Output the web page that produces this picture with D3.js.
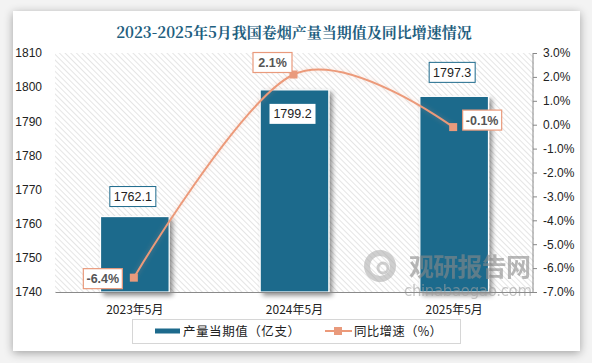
<!DOCTYPE html>
<html><head><meta charset="utf-8">
<script src="https://cdn.jsdelivr.net/npm/d3@7"></script>
<style>
html,body{margin:0;padding:0;background:#fff;}
svg{display:block;}
</style></head>
<body>
<script>
const categories = ["2023年5月","2024年5月","2025年5月"];
const production = [1762.1, 1799.2, 1797.3];
const growth = [-6.4, 2.1, -0.1];
const leftTicks = [1740,1750,1760,1770,1780,1790,1800,1810];
const rightTicks = [3,2,1,0,-1,-2,-3,-4,-5,-6,-7];
const title = "2023-2025年5月我国卷烟产量当期值及同比增速情况";
const legendBar = "产量当期值（亿支）";
const legendLine = "同比增速（%）";

const W = 592, H = 363;
const svg = d3.select("body").append("svg").attr("width", W).attr("height", H);
const defs = svg.append("defs");

const bg = defs.append("filter").attr("id","cardShadow").attr("x","-10%").attr("y","-10%").attr("width","120%").attr("height","120%");
bg.append("feGaussianBlur").attr("in","SourceAlpha").attr("stdDeviation",5).attr("result","b");
bg.append("feOffset").attr("in","b").attr("dx",0).attr("dy",2).attr("result","o");
bg.append("feComponentTransfer").attr("in","o").attr("result","o2").append("feFuncA").attr("type","linear").attr("slope",0.35);
const m1 = bg.append("feMerge"); m1.append("feMergeNode").attr("in","o2"); m1.append("feMergeNode").attr("in","SourceGraphic");

const bs = defs.append("filter").attr("id","barShadow").attr("x","-20%").attr("y","-20%").attr("width","150%").attr("height","150%");
bs.append("feGaussianBlur").attr("in","SourceAlpha").attr("stdDeviation",2.5).attr("result","b");
bs.append("feOffset").attr("in","b").attr("dx",3).attr("dy",3).attr("result","o");
bs.append("feComponentTransfer").attr("in","o").attr("result","o2").append("feFuncA").attr("type","linear").attr("slope",0.45);
const m2 = bs.append("feMerge"); m2.append("feMergeNode").attr("in","o2"); m2.append("feMergeNode").attr("in","SourceGraphic");

const gl = defs.append("filter").attr("id","lineGlow").attr("x","-20%").attr("y","-20%").attr("width","140%").attr("height","140%");
gl.append("feGaussianBlur").attr("in","SourceGraphic").attr("stdDeviation",2.5).attr("result","b");
gl.append("feComponentTransfer").attr("in","b").attr("result","b2").append("feFuncA").attr("type","linear").attr("slope",0.35);
const m3 = gl.append("feMerge"); m3.append("feMergeNode").attr("in","b2"); m3.append("feMergeNode").attr("in","SourceGraphic");

const pat = defs.append("pattern").attr("id","hatch").attr("patternUnits","userSpaceOnUse")
  .attr("width",4).attr("height",4).attr("patternTransform","rotate(-45)");
pat.append("rect").attr("width",4).attr("height",4).attr("fill","#fff");
pat.append("line").attr("x1",0).attr("y1",0).attr("x2",0).attr("y2",4).attr("stroke","#d4d4d4").attr("stroke-width",1.2);

svg.append("rect").attr("width",W).attr("height",H).attr("fill","#f3f3f3");
svg.append("rect").attr("x",13).attr("y",11).attr("width",567).attr("height",340).attr("fill","#fff").attr("filter","url(#cardShadow)");

const plot = {l:55, r:534, t:53, b:292};
const x = d3.scaleBand().domain(categories).range([plot.l, plot.r]).paddingInner(0.57).paddingOuter(0.285);
const yL = d3.scaleLinear().domain([1740,1810]).range([plot.b, plot.t]);
const yR = d3.scaleLinear().domain([-7,3]).range([plot.b, plot.t]);
const xc = d => x(d) + x.bandwidth()/2;

svg.append("rect").attr("x",plot.l).attr("y",plot.t).attr("width",plot.r-plot.l).attr("height",plot.b-plot.t).attr("fill","url(#hatch)");

svg.append("text").attr("x",294).attr("y",38).attr("text-anchor","middle")
  .attr("font-family","'Noto Serif CJK SC','Noto Sans CJK SC',serif").attr("font-weight","bold")
  .attr("font-size",15).attr("fill","#1f5f80").text(title);

// bars
svg.append("g").selectAll("rect").data(categories).join("rect")
  .attr("x", d => x(d)).attr("width", x.bandwidth())
  .attr("y", (d,i) => yL(production[i])).attr("height", (d,i) => plot.b - yL(production[i]))
  .attr("fill","#1d6a8c").attr("stroke","#fff").attr("stroke-width",1.2).attr("filter","url(#barShadow)");

// watermark (over bars)
const wm = svg.append("g").attr("opacity",0.6);
wm.append("circle").attr("cx",380).attr("cy",266).attr("r",13).attr("fill","none").attr("stroke","#b0b0b0").attr("stroke-width",6);
wm.append("circle").attr("cx",383).attr("cy",268).attr("r",5).attr("fill","none").attr("stroke","#b0b0b0").attr("stroke-width",3);
wm.append("text").attr("x",409).attr("y",276).attr("font-family","'Noto Sans CJK SC'").attr("font-weight","bold")
  .attr("font-size",25).attr("fill","#8a8a8a").attr("textLength",122).text("观研报告网");
wm.append("text").attr("x",404).attr("y",296).attr("font-family","'DejaVu Sans'")
  .attr("font-size",15).attr("fill","#a0a0a0").attr("textLength",128).text("chinabaogao.com");

// axes
const axL = svg.append("g").attr("transform",`translate(${plot.l},0)`)
  .call(d3.axisLeft(yL).tickValues(leftTicks).tickSize(0).tickPadding(13).tickFormat(d3.format("d")));
axL.select(".domain").remove();
axL.selectAll("text").attr("font-family","'Liberation Sans',Arial").attr("font-size",12).attr("fill","#222");

const axR = svg.append("g").attr("transform",`translate(${plot.r-1},0)`)
  .call(d3.axisRight(yR).tickValues(rightTicks).tickSize(4).tickPadding(6).tickFormat(d => d.toFixed(1)+"%"));
axR.select(".domain").attr("stroke","#888").attr("d",`M0,${plot.t}V${plot.b}`);
axR.selectAll(".tick line").attr("stroke","#888");
axR.selectAll("text").attr("font-family","'Liberation Sans',Arial").attr("font-size",12).attr("fill","#222");

const axB = svg.append("g").attr("transform",`translate(0,${plot.b})`)
  .call(d3.axisBottom(x).tickSize(0).tickPadding(13));
axB.select(".domain").attr("stroke","#8a8a8a").attr("stroke-width",1.2);
axB.selectAll("text").attr("font-family","'Noto Sans CJK SC'").attr("font-size",12).attr("fill","#222");

// line
const pts = categories.map((c,i) => [xc(c)-1, yR(growth[i])]);
svg.append("path").attr("d", d3.line().curve(d3.curveCardinal.tension(0))(pts))
  .attr("fill","none").attr("stroke","#ec9a7a").attr("stroke-width",2).attr("filter","url(#lineGlow)");
svg.append("g").selectAll("rect").data(pts).join("rect")
  .attr("x", d => d[0]-4).attr("y", d => d[1]-4).attr("width",8).attr("height",8).attr("fill","#e99a7c");

// bar labels
const barLabelPos = [[0,-20],[0,24],[0,-24]];
const blg = svg.append("g");
categories.forEach((c,i) => {
  const cx = xc(c) - 2, cy = yL(production[i]) + barLabelPos[i][1];
  const bw = 46, bh = 20;
  blg.append("rect").attr("x",cx-bw/2).attr("y",cy-bh/2).attr("width",bw).attr("height",bh)
    .attr("fill","#fff").attr("stroke", i===1 ? "none" : "#1d6a8c").attr("stroke-width",1);
  blg.append("text").attr("x",cx).attr("y",cy+4.5).attr("text-anchor","middle")
    .attr("font-family","'Liberation Sans',Arial").attr("font-size",12.5).attr("fill","#222")
    .text(production[i].toFixed(1));
});

// line labels
const lineLabelOff = [[-31,1],[-21,-12],[29,-7]];
const llg = svg.append("g");
pts.forEach((p,i) => {
  const cx = p[0] + lineLabelOff[i][0], cy = p[1] + lineLabelOff[i][1];
  const bw = 39, bh = 20;
  llg.append("rect").attr("x",cx-bw/2).attr("y",cy-bh/2).attr("width",bw).attr("height",bh)
    .attr("fill","#fff").attr("stroke","#e99a7c").attr("stroke-width",1.2);
  llg.append("text").attr("x",cx).attr("y",cy+4.5).attr("text-anchor","middle")
    .attr("font-family","'Liberation Sans',Arial").attr("font-weight","bold").attr("font-size",12.5).attr("fill","#555")
    .text(growth[i].toFixed(1)+"%");
});

// legend
const lg = svg.append("g");
lg.append("rect").attr("x",132.5).attr("y",319.5).attr("width",328).attr("height",24).attr("fill","#fff").attr("stroke","#d6d6d6");
lg.append("rect").attr("x",155).attr("y",328.5).attr("width",25).attr("height",5).attr("fill","#1d6a8c");
lg.append("text").attr("x",183).attr("y",336).attr("font-family","'Noto Sans CJK SC'").attr("font-size",12.5).attr("fill","#222").attr("textLength",117).text(legendBar);
lg.append("line").attr("x1",325).attr("x2",352).attr("y1",331).attr("y2",331).attr("stroke","#ec9a7a").attr("stroke-width",2);
lg.append("rect").attr("x",334).attr("y",327).attr("width",8).attr("height",8).attr("fill","#e99a7c");
lg.append("text").attr("x",354).attr("y",336).attr("font-family","'Noto Sans CJK SC'").attr("font-size",12.5).attr("fill","#222").attr("textLength",88).text(legendLine);
</script>
</body></html>
